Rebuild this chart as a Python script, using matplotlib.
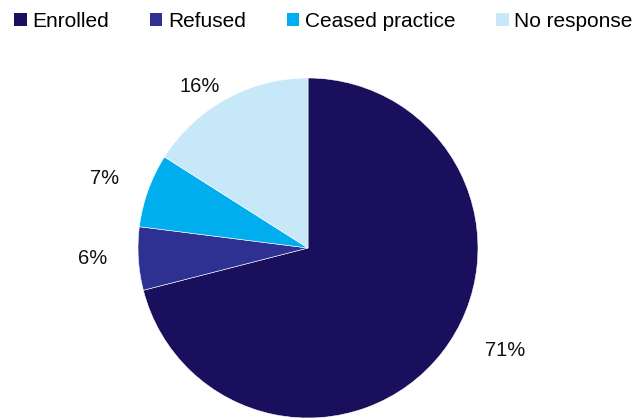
import matplotlib
matplotlib.use("Agg")
import matplotlib.pyplot as plt
from matplotlib.patches import Patch

categories = ["Enrolled", "Refused", "Ceased practice", "No response"]
values = [71, 6, 7, 16]
labels = ["71%", "6%", "7%", "16%"]
colors = ["#1A0F5C", "#2E3192", "#00AEEF", "#C6E8F8"]

# label positions (pixel offsets from pie centre)
label_xy = [(197, -103), (-215, -11), (-203, 70), (-108, 161)]

W, H = 638, 418
fig = plt.figure(figsize=(W / 100, H / 100), dpi=100)
ax = fig.add_axes([0, 0, 1, 1])
cx, cy, R = 308, 248, 170

font = ["Liberation Sans", "DejaVu Sans"]

wedges, _ = ax.pie(values, colors=colors, startangle=90, counterclock=False,
                   radius=R, center=(0, 0), frame=True,
                   wedgeprops=dict(linewidth=0.4, edgecolor="white"))
ax.set_xlim(-cx, W - cx)
ax.set_ylim(-(H - cy), cy)
ax.set_aspect("equal")
ax.axis("off")

for lab, (x, y) in zip(labels, label_xy):
    ax.text(x, y, lab, ha="center", va="center", fontsize=14.5,
            family=font, color="#111111")

handles = [Patch(facecolor=c, edgecolor="none") for c in colors]
fig.legend(handles, categories, loc="upper left",
           bbox_to_anchor=(14 / W, 1 - 12 / H), ncol=4, frameon=False,
           prop=dict(family=font, size=15.0), handlelength=0.6,
           handleheight=0.6, handletextpad=0.28, columnspacing=1.95,
           borderpad=0, borderaxespad=0)

fig.savefig("out.png", dpi=100, facecolor="white")
